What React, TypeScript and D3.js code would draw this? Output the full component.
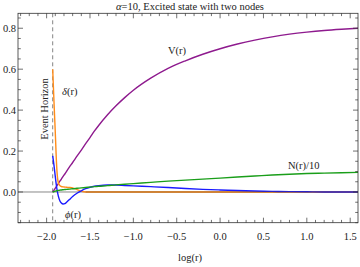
import React from 'react';
import * as d3 from 'd3';

const W = 360;
const H = 267;

// log(r) grid used for every series
const logR = [-1.93, -1.915, -1.9, -1.884, -1.865, -1.845, -1.83, -1.81, -1.79, -1.77, -1.74, -1.7, -1.65, -1.6, -1.55, -1.5, -1.45, -1.4, -1.3, -1.2, -1.1, -1.0, -0.8, -0.6, -0.4, -0.2, 0.0, 0.2, 0.4, 0.6, 0.8, 1.0, 1.2, 1.4, 1.6];

const vValues = [0.0, 0.009, 0.019, 0.029, 0.041, 0.054, 0.063, 0.076, 0.088, 0.101, 0.12, 0.144, 0.175, 0.205, 0.236, 0.266, 0.297, 0.325, 0.376, 0.421, 0.461, 0.497, 0.556, 0.604, 0.641, 0.673, 0.7, 0.723, 0.742, 0.758, 0.771, 0.781, 0.789, 0.795, 0.8];
const deltaValues = [0.6, 0.44, 0.29, 0.124, 0.045, 0.03, 0.027, 0.025, 0.024, 0.023, 0.022, 0.02, 0.012, 0.004, 0.0, 0.0, 0.0, 0.0, 0.0, 0.0, 0.0, 0.0, 0.0, 0.0, 0.0, 0.0, 0.0, 0.0, 0.0, 0.0, 0.0, 0.0, 0.0, 0.0, 0.0];
const phiValues = [0.176, 0.13, 0.075, 0.022, -0.02, -0.045, -0.054, -0.059, -0.057, -0.05, -0.038, -0.022, -0.006, 0.006, 0.016, 0.023, 0.028, 0.031, 0.034, 0.034, 0.032, 0.03, 0.026, 0.022, 0.017, 0.013, 0.01, 0.007, 0.005, 0.003, 0.002, 0.001, 0.0, 0.0, 0.0];
const nValues = [0.0, 0.002, 0.004, 0.006, 0.008, 0.009, 0.01, 0.011, 0.012, 0.013, 0.014, 0.016, 0.018, 0.02, 0.022, 0.024, 0.026, 0.028, 0.031, 0.035, 0.038, 0.041, 0.047, 0.053, 0.058, 0.063, 0.068, 0.073, 0.078, 0.083, 0.087, 0.09, 0.092, 0.094, 0.096];

const xTicks = [-2.0, -1.5, -1.0, -0.5, 0.0, 0.5, 1.0, 1.5];
const yTicks = [0.0, 0.2, 0.4, 0.6, 0.8];
const horizon = -1.93;

const series = [
  { name: 'V', values: vValues, color: '#8e1a8e' },
  { name: 'delta', values: deltaValues, color: '#ff8c1a' },
  { name: 'phi', values: phiValues, color: '#1a1aff' },
  { name: 'N', values: nValues, color: '#1a9e1a' },
];

const font = '"Liberation Serif", "DejaVu Serif", serif';

export default function App() {
  const m = { left: 18, right: 2, top: 13.3, bottom: 44.3 };
  const x = d3.scaleLinear().domain([-2.33, 1.59]).range([m.left, W - m.right]);
  const y = d3.scaleLinear().domain([-0.15, 0.873]).range([H - m.bottom, m.top]);

  const x0 = x.range()[0], x1 = x.range()[1];
  const y0 = y.range()[0], y1 = y.range()[1];

  const xMinor = d3.range(-2.3, 1.6, 0.1).map(v => +v.toFixed(2)).filter(v => !xTicks.some(t => Math.abs(t - v) < 1e-6));
  const yMinor = d3.range(-0.15, 0.87, 0.05).map(v => +v.toFixed(2)).filter(v => !yTicks.some(t => Math.abs(t - v) < 1e-6));

  const line = (vals: number[]) =>
    d3.line<number>()
      .x((_, i) => x(logR[i]))
      .y(d => y(d))
      .curve(d3.curveMonotoneX)(vals) as string;

  const frame = '#333';
  const fmt = (v: number) => (v < 0 ? '\u2212' : '') + Math.abs(v).toFixed(1);

  return (
    <svg width={W} height={H} style={{ position: 'absolute', left: 0, top: 0, display: 'block', background: '#fff' }}>
      <defs>
        <clipPath id="plot">
          <rect x={x0} y={y1} width={x1 - x0} height={y0 - y1} />
        </clipPath>
      </defs>

      <text x={190} y={9.5} textAnchor="middle" fontFamily={font} fontSize={10.5} fill="#222">
        <tspan fontStyle="italic">α</tspan>=10, Excited state with two nodes
      </text>

      {/* zero line */}
      <line x1={x0} x2={x1} y1={y(0)} y2={y(0)} stroke="#888" strokeWidth={1} />

      {/* event horizon */}
      <line x1={x(horizon)} x2={x(horizon)} y1={y1} y2={y0} stroke="#777" strokeWidth={0.9} strokeDasharray="4,3" />

      <g clipPath="url(#plot)">
        {series.map(s => (
          <path key={s.name} d={line(s.values)} fill="none" stroke={s.color} strokeWidth={1.4} strokeLinejoin="round" />
        ))}
      </g>
      <line x1={x(-1.55)} x2={x1} y1={y(0)} y2={y(0)} stroke="#5a3a10" strokeOpacity={0.45} strokeWidth={1} />

      {/* frame */}
      <rect x={x0} y={y1} width={x1 - x0} height={y0 - y1} fill="none" stroke={frame} strokeWidth={0.8} />

      {/* ticks */}
      <g stroke={frame} strokeWidth={0.7}>
        {xTicks.map(t => (
          <g key={'xt' + t}>
            <line x1={x(t)} x2={x(t)} y1={y0} y2={y0 - 5} />
            <line x1={x(t)} x2={x(t)} y1={y1} y2={y1 + 5} />
          </g>
        ))}
        {xMinor.map(t => (
          <g key={'xm' + t}>
            <line x1={x(t)} x2={x(t)} y1={y0} y2={y0 - 2.8} />
            <line x1={x(t)} x2={x(t)} y1={y1} y2={y1 + 2.8} />
          </g>
        ))}
        {yTicks.map(t => (
          <g key={'yt' + t}>
            <line x1={x0} x2={x0 + 5} y1={y(t)} y2={y(t)} />
            <line x1={x1} x2={x1 - 5} y1={y(t)} y2={y(t)} />
          </g>
        ))}
        {yMinor.map(t => (
          <g key={'ym' + t}>
            <line x1={x0} x2={x0 + 2.8} y1={y(t)} y2={y(t)} />
            <line x1={x1} x2={x1 - 2.8} y1={y(t)} y2={y(t)} />
          </g>
        ))}
      </g>

      {/* tick labels */}
      <g fontFamily={font} fontSize={10.5} fill="#222">
        {xTicks.map(t => (
          <text key={'xl' + t} x={x(t)} y={240} textAnchor="middle">{fmt(t)}</text>
        ))}
        {yTicks.map(t => (
          <text key={'yl' + t} x={x0 - 2} y={y(t) + 3.6} textAnchor="end">{fmt(t)}</text>
        ))}
        <text x={190} y={261} textAnchor="middle">log(r)</text>
      </g>

      {/* annotations */}
      <g fontFamily={font} fontSize={10.5} fill="#222">
        <text transform={`translate(${x(horizon) - 5},${109}) rotate(-90)`} textAnchor="middle">Event Horizon</text>
        <text x={62} y={95}><tspan fontStyle="italic">δ</tspan>(r)</text>
        <text x={65} y={218}><tspan fontStyle="italic">ϕ</tspan>(r)</text>
        <text x={168} y={54}>V(r)</text>
        <text x={288} y={168.5}>N(r)/10</text>
      </g>
    </svg>
  );
}
